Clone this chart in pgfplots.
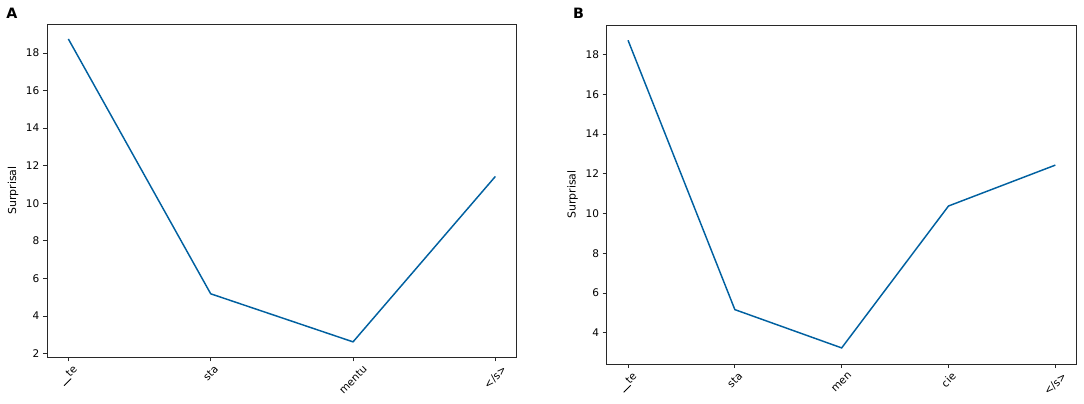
\documentclass[border=0pt]{standalone}
\usepackage{fontspec}
\setmainfont{DejaVu Sans}
\usepackage{graphicx}
\usepackage{pgfplots}
\pgfplotsset{compat=1.18}
\definecolor{lc}{RGB}{0,96,160}
\definecolor{ax}{RGB}{40,40,40}
\newcommand{\spbar}{\rule[-0.17em]{0.95em}{0.08em}}
\pgfplotsset{mystyle/.style={
  scale only axis,
  clip=false,
  tick align=outside,
  major tick length=3pt,
  xtick pos=left, ytick pos=left,
  tick style={ax, line width=0.6pt},
  axis line style={ax, line width=0.6pt},
  tick label style={font=\fontsize{7.9}{9}\selectfont},
  /pgf/number format/assume math mode=true,
  xticklabel style={anchor=north, inner sep=0pt, yshift=-2.5pt},
  yticklabel style={anchor=east, inner sep=0pt, xshift=-2.5pt},
  ytick distance=2,
  xtick=data,
  ylabel={Surprisal},
  every axis y label/.style={at={(axis description cs:-0.0724,0.5)}, rotate=90, anchor=center, font=\fontsize{8.2}{9}\selectfont},
}}
\begin{document}
\begin{tikzpicture}
\path[use as bounding box] (0,0) rectangle (813pt,302.25pt);
\begin{axis}[mystyle,
  at={(35.25pt,34.3pt)}, anchor=south west,
  width=352.3pt, height=250pt,
  xmin=-0.15, xmax=3.15, ymin=1.8, ymax=19.55,
  xticklabels={\rotatebox{45}{\spbar te},\rotatebox{45}{sta},\rotatebox{45}{mentu},\rotatebox{45}{</s>}},
]
\addplot[lc, line width=1.1pt, mark=none] coordinates {(0,18.75) (1,5.18) (2,2.62) (3,11.43)};
\node[font=\bfseries\fontsize{10.7}{12}\selectfont] at (rel axis cs:-0.0745,1.0315) {A};
\end{axis}
\begin{axis}[mystyle,
  at={(455pt,29.25pt)}, anchor=south west,
  width=352.5pt, height=254.25pt,
  xmin=-0.2, xmax=4.2, ymin=2.42, ymax=19.5,
  xticklabels={\rotatebox{45}{\spbar te},\rotatebox{45}{sta},\rotatebox{45}{men},\rotatebox{45}{cie},\rotatebox{45}{</s>}},
]
\addplot[lc, line width=1.1pt, mark=none] coordinates {(0,18.73) (1,5.16) (2,3.23) (3,10.38) (4,12.44)};
\node[font=\bfseries\fontsize{10.7}{12}\selectfont] at (rel axis cs:-0.0596,1.034) {B};
\end{axis}
\end{tikzpicture}
\end{document}
